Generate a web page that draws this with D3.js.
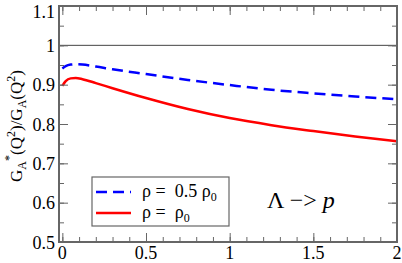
<!DOCTYPE html>
<html><head><meta charset="utf-8">
<script src="https://cdn.jsdelivr.net/npm/d3@7"></script>
</head><body style="margin:0"><svg id="c" width="402" height="263"></svg>
<script>
const q2 = [0, 0.02, 0.05, 0.08, 0.12, 0.2, 0.3, 0.5, 0.75, 1.0, 1.25, 1.5, 1.75, 2.0];
const halfRho = [0.941, 0.947, 0.951, 0.952, 0.951, 0.946, 0.939, 0.927, 0.912, 0.899, 0.887, 0.878, 0.870, 0.863];
const fullRho = [0.897, 0.909, 0.916, 0.917, 0.914, 0.904, 0.891, 0.866, 0.838, 0.815, 0.797, 0.782, 0.768, 0.756];
const xTicks = [0, 0.5, 1, 1.5, 2];
const yTicks = [0.5, 0.6, 0.7, 0.8, 0.9, 1.0, 1.1];
const yTickLabels = ["0.5", "0.6", "0.7", "0.8", "0.9", "1", "1.1"];

const FONT = '"Liberation Serif"';
const svg = d3.select("#c");
const L = 59, R = 397, T = 6, B = 242;
const x = d3.scaleLinear().domain([-0.02, 2]).range([L, R]);
const y = d3.scaleLinear().domain([0.5, 1.1]).range([B, T]);
const axisCol = "#666";

svg.append("rect").attr("width", 402).attr("height", 263).attr("fill", "#fff");

// reference line at 1
svg.append("line").attr("x1", L).attr("x2", R).attr("y1", y(1)).attr("y2", y(1))
  .attr("stroke", "#444").attr("stroke-width", 1);

const line = d3.line().x((d, i) => x(q2[i])).y(d => y(d)).curve(d3.curveMonotoneX);
svg.append("path").datum(halfRho).attr("d", line).attr("fill", "none")
  .attr("stroke", "#0000ff").attr("stroke-width", 2.5).attr("stroke-dasharray", "11,6");
svg.append("path").datum(fullRho).attr("d", line).attr("fill", "none")
  .attr("stroke", "#ff0000").attr("stroke-width", 2.5);

const xMinor = d3.range(0, 2.0001, 0.1).map(v => +v.toFixed(2));
const yMinor = d3.range(0.5, 1.1001, 0.05).map(v => +v.toFixed(3));
function tickSet(g) { g.select(".domain").remove(); g.selectAll("line").attr("stroke", axisCol); }

const gb = svg.append("g").attr("transform", `translate(0,${B})`);
gb.call(d3.axisBottom(x).tickValues(xMinor).tickSize(-5).tickFormat("")).call(tickSet);
gb.append("g").call(d3.axisBottom(x).tickValues(xTicks).tickSize(-9).tickFormat("")).call(tickSet);
const gt = svg.append("g").attr("transform", `translate(0,${T})`);
gt.call(d3.axisTop(x).tickValues(xMinor).tickSize(-5).tickFormat("")).call(tickSet);
gt.append("g").call(d3.axisTop(x).tickValues(xTicks).tickSize(-9).tickFormat("")).call(tickSet);
const gl = svg.append("g").attr("transform", `translate(${L},0)`);
gl.call(d3.axisLeft(y).tickValues(yMinor).tickSize(-5).tickFormat("")).call(tickSet);
gl.append("g").call(d3.axisLeft(y).tickValues(yTicks).tickSize(-9).tickFormat("")).call(tickSet);
const gr = svg.append("g").attr("transform", `translate(${R},0)`);
gr.call(d3.axisRight(y).tickValues(yMinor).tickSize(-5).tickFormat("")).call(tickSet);
gr.append("g").call(d3.axisRight(y).tickValues(yTicks).tickSize(-9).tickFormat("")).call(tickSet);

xTicks.forEach(v => {
  svg.append("text").attr("x", x(v)).attr("y", 259).attr("text-anchor", "middle")
    .attr("font-size", 18).style("font-family", FONT).text(d3.format("")(v));
});
yTicks.forEach((v, i) => {
  const yy = Math.max(y(v) + 6.5, 18);
  svg.append("text").attr("x", 55).attr("y", yy).attr("text-anchor", "end")
    .attr("font-size", 18).style("font-family", FONT).text(yTickLabels[i]);
});

svg.append("rect").attr("x", L).attr("y", T).attr("width", R - L).attr("height", B - T)
  .attr("fill", "none").attr("stroke", axisCol).attr("stroke-width", 2);

// y label
const yl = svg.append("text").attr("transform", `translate(22,${(T + B) / 2 + 2}) rotate(-90)`)
  .attr("text-anchor", "middle").attr("font-size", 17).style("font-family", FONT);
function sub(sel, txt, dy) { sel.append("tspan").attr("font-size", 12).attr("dy", dy).text(txt); }
yl.append("tspan").text("G");
sub(yl, "A", 4);
sub(yl, "*", -13);
yl.append("tspan").attr("dy", 9).text("(Q");
sub(yl, "2", -7);
yl.append("tspan").attr("dy", 7).text(")/G");
sub(yl, "A", 4);
yl.append("tspan").attr("dy", -4).text("(Q");
sub(yl, "2", -7);
yl.append("tspan").attr("dy", 7).text(")");

// legend
svg.append("rect").attr("x", 92).attr("y", 177).attr("width", 137).attr("height", 49)
  .attr("fill", "#fff").attr("stroke", "#666").attr("stroke-width", 1.2);
const leg = [
  { col: "#0000ff", dash: "11,6", yy: 192, main: "ρ =\u00a0\u00a00.5 ρ" },
  { col: "#ff0000", dash: null, yy: 213, main: "ρ =\u00a0\u00a0ρ" }
];
leg.forEach(d => {
  svg.append("line").attr("x1", 96).attr("x2", 131).attr("y1", d.yy).attr("y2", d.yy)
    .attr("stroke", d.col).attr("stroke-width", 2.5).attr("stroke-dasharray", d.dash);
  const t = svg.append("text").attr("x", 142).attr("y", d.yy + 5)
    .attr("font-size", 18).style("font-family", FONT);
  t.append("tspan").text(d.main);
  t.append("tspan").attr("font-size", 12).attr("dy", 4).text("0");
});

// annotation
const an = svg.append("text").attr("x", 267).attr("y", 208).attr("font-size", 24).style("font-family", FONT);
an.append("tspan").text("Λ −> ");
an.append("tspan").style("font-style", "italic").text("p");
</script></body></html>
